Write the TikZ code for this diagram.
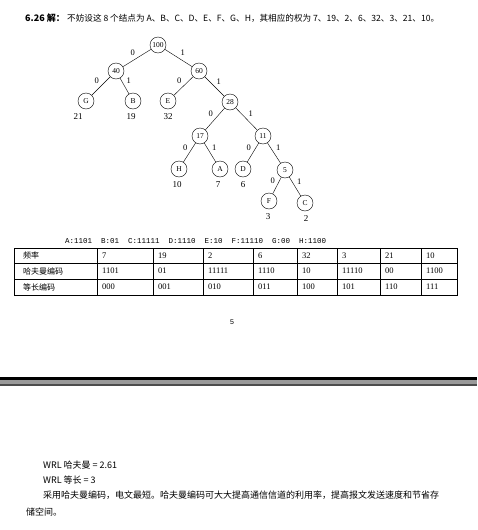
\documentclass[tikz,border=0pt]{standalone}
\usepackage{fontspec}
\setmainfont{Liberation Serif}
\newfontfamily\cjk{Noto Sans CJK SC}
\newfontfamily\pgnum{Liberation Sans}
\newfontfamily\codefont{Liberation Mono}
\newcommand\colLines{14,97,153,203,253,297,337,380,421,457}
\newcommand\tabLeft{14}
\newcommand\tabRight{457}

\begin{document}
\begin{tikzpicture}[x=1pt,y=-1pt,
    vert/.style={circle,draw,minimum size=16pt,inner sep=0pt,font=\fontsize{7.5}{8}\selectfont},
    weight/.style={inner sep=0pt,font=\fontsize{9}{10}\selectfont},
    bitl/.style={above left,inner sep=2pt,font=\fontsize{8.5}{9}\selectfont},
    bitr/.style={above right,inner sep=2pt,font=\fontsize{8.5}{9}\selectfont},
    cell/.style={anchor=west,inner sep=0pt,font=\cjk\fontsize{8}{9}\selectfont},
    numcell/.style={anchor=west,inner sep=0pt,font=\fontsize{8.5}{9}\selectfont},
    txt/.style={anchor=base west,inner sep=0pt,font=\cjk\fontsize{9}{11}\selectfont}]
  \useasboundingbox (0,0) rectangle (477,530);

  % heading
  \node[txt] (head) at (25,21) {\bfseries 6.26 解：};
  \node[txt,font=\cjk\fontsize{8.6}{10}\selectfont] (intro) at (67,21)
    {不妨设这 8 个结点为 A、B、C、D、E、F、G、H，其相应的权为 7、19、2、6、32、3、21、10。};

  % Huffman tree
  \node[vert] (n100) at (158,45) {100};
  \node[vert] (n40) at (116,71) {40};
  \node[vert] (n60) at (199,71) {60};
  \node[vert] (G) at (86,101) {G};
  \node[vert] (B) at (133,101) {B};
  \node[vert] (E) at (168,101) {E};
  \node[vert] (n28) at (230,102) {28};
  \node[vert] (n17) at (200,136) {17};
  \node[vert] (n11) at (263,136) {11};
  \node[vert] (H) at (179,169) {H};
  \node[vert] (A) at (220,169) {A};
  \node[vert] (D) at (243,169) {D};
  \node[vert] (n5) at (285,170) {5};
  \node[vert] (F) at (269,201) {F};
  \node[vert] (C) at (305,203) {C};

  \draw (n100) -- node[bitl] {0} (n40);
  \draw (n100) -- node[bitr] {1} (n60);
  \draw (n40) -- node[bitl] {0} (G);
  \draw (n40) -- node[bitr] {1} (B);
  \draw (n60) -- node[bitl] {0} (E);
  \draw (n60) -- node[bitr] {1} (n28);
  \draw (n28) -- node[bitl] {0} (n17);
  \draw (n28) -- node[bitr] {1} (n11);
  \draw (n17) -- node[bitl] {0} (H);
  \draw (n17) -- node[bitr] {1} (A);
  \draw (n11) -- node[bitl] {0} (D);
  \draw (n11) -- node[bitr] {1} (n5);
  \draw (n5) -- node[bitl] {0} (F);
  \draw (n5) -- node[bitr] {1} (C);

  \foreach \leaf/\w/\dx in {G/21/-8,B/19/-2,E/32/0,H/10/-2,A/7/-2,D/6/0,F/3/-1,C/2/1} {
    \node[weight] (w\leaf) at ([xshift=\dx pt,yshift=-16pt]\leaf.center) {\w};
  }

  % codes
  \node[txt,font=\codefont\fontsize{7.5}{10}\selectfont] (codes) at (65,243)
    {A:1101\ \ B:01\ \ C:11111\ \ D:1110\ \ E:10\ \ F:11110\ \ G:00\ \ H:1100};

  % table
  \draw[line width=0.8pt] (\tabLeft,248) rectangle (\tabRight,295);
  \foreach \y in {263,279} {
    \draw[line width=0.8pt] (\tabLeft,\y) -- (\tabRight,\y);
  }
  \foreach \x in \colLines {
    \draw[line width=0.8pt] (\x,248) -- (\x,295);
  }
  \node[cell] (rFreq) at (23,255.5) {频率};
  \node[cell] (rHuff) at (23,271) {哈夫曼编码};
  \node[cell] (rFix) at (23,287) {等长编码};
  \foreach \x/\f/\h/\e [count=\i] in {97/7/1101/000,153/19/01/001,203/2/11111/010,253/6/1110/011,
      297/32/10/100,337/3/11110/101,380/21/00/110,421/10/1100/111} {
    \node[numcell] (f\i) at (\x+5,255.5) {\f};
    \node[numcell] (h\i) at (\x+5,271) {\h};
    \node[numcell] (e\i) at (\x+5,287) {\e};
  }

  % page number and page break
  \node[inner sep=0pt,font=\pgnum\fontsize{7}{8}\selectfont] (page) at (232,322) {5};
  \fill[black] (0,377) rectangle (477,380);
  \fill[black!40] (0,380) rectangle (477,384);
  \fill[black!70] (0,384) rectangle (477,385.5);

  % conclusion
  \node[txt] (wrlHuff) at (43,468) {WRL 哈夫曼 = 2.61};
  \node[txt] (wrlFix) at (43,483) {WRL 等长 = 3};
  \node[txt] (concl) at (43,498) {采用哈夫曼编码，电文最短。哈夫曼编码可大大提高通信信道的利用率，提高报文发送速度和节省存};
  \node[txt] (concl2) at (26,515) {储空间。};
\end{tikzpicture}
\end{document}
